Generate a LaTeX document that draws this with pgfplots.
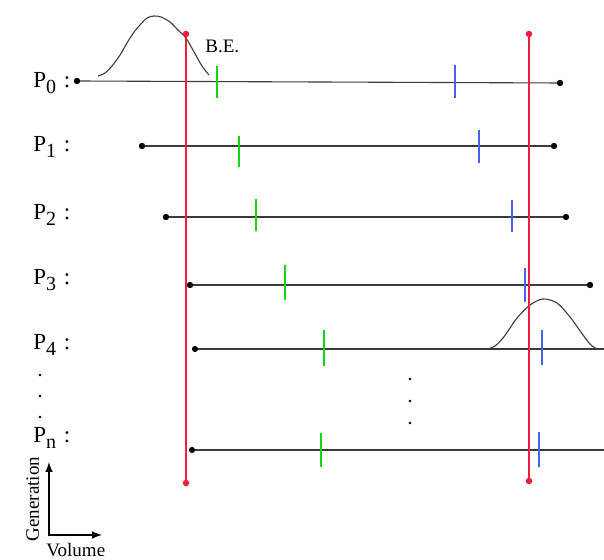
\documentclass[border=0pt]{standalone}
\usepackage{pgfplots}
\pgfplotsset{compat=1.18}
\usepackage{fontspec}
\setmainfont{Liberation Serif}
\definecolor{rl}{RGB}{238,30,60}
\definecolor{gt}{RGB}{20,215,20}
\definecolor{bt}{RGB}{70,100,235}
\definecolor{ln}{RGB}{60,60,60}
\newcommand{\Plab}[1]{P\raisebox{-0.55ex}{\fontsize{10}{11}\selectfont #1}\,\,:}
\begin{document}
\begin{tikzpicture}
\begin{axis}[
  width=302pt, height=280pt, scale only axis,
  xmin=0, xmax=604, ymin=0, ymax=560, y dir=reverse,
  axis lines=none, clip=false,
]
% horizontal lines with end dots
\addplot[ln, line width=0.55pt, mark=*, mark size=1.3pt, mark options={fill=black,draw=black}] coordinates {(77,81) (560,83)};
\addplot[ln, line width=0.55pt, mark=*, mark size=1.3pt, mark options={fill=black,draw=black}] coordinates {(142,146) (554,146)};
\addplot[ln, line width=0.55pt, mark=*, mark size=1.3pt, mark options={fill=black,draw=black}] coordinates {(166,217) (566,217)};
\addplot[ln, line width=0.55pt, mark=*, mark size=1.3pt, mark options={fill=black,draw=black}] coordinates {(190,285) (590,285)};
\addplot[ln, line width=0.55pt, no markers] coordinates {(195,349) (604,349)};
\addplot[only marks, mark=*, mark size=1.3pt, fill=black] coordinates {(195,349)};
\addplot[ln, line width=0.55pt, no markers] coordinates {(192,450) (604,450)};
\addplot[only marks, mark=*, mark size=1.3pt, fill=black] coordinates {(192,450)};
% green ticks
\addplot[gt, line width=0.8pt, no markers] coordinates {(217,66) (217,98)};
\addplot[gt, line width=0.8pt, no markers] coordinates {(239,136) (239,167)};
\addplot[gt, line width=0.8pt, no markers] coordinates {(256,199) (256,231)};
\addplot[gt, line width=0.8pt, no markers] coordinates {(285,265) (285,300)};
\addplot[gt, line width=0.8pt, no markers] coordinates {(324,330) (324,366)};
\addplot[gt, line width=0.8pt, no markers] coordinates {(321,433) (321,467)};
% blue ticks
\addplot[bt, line width=0.8pt, no markers] coordinates {(455,65) (455,98)};
\addplot[bt, line width=0.8pt, no markers] coordinates {(479,130) (479,163)};
\addplot[bt, line width=0.8pt, no markers] coordinates {(512,200) (512,232)};
\addplot[bt, line width=0.8pt, no markers] coordinates {(525,268) (525,302)};
\addplot[bt, line width=0.8pt, no markers] coordinates {(542,330) (542,365)};
\addplot[bt, line width=0.8pt, no markers] coordinates {(539,432) (539,467)};
% bell curves
\addplot[ln, line width=0.55pt, smooth, no markers] coordinates {(98,76) (105,73) (112,66) (120,55) (127,43) (134,32) (140,25) (147,18) (154,16) (161,17) (170,22) (178,30) (186,38) (194,52) (202,66) (209,75)};
\addplot[ln, line width=0.55pt, smooth, no markers] coordinates {(488,349) (495,346) (503,338) (510,328) (517,318) (530,305) (543,299) (557,303) (570,317) (583,335) (590,344) (595,348) (599,349)};
% red lines
\addplot[rl, line width=0.8pt, mark=*, mark size=1.2pt, mark options={fill=rl,draw=rl}] coordinates {(186,34) (186,483)};
\addplot[rl, line width=0.8pt, mark=*, mark size=1.2pt, mark options={fill=rl,draw=rl}] coordinates {(529,34) (529,481)};
% ellipsis dots
\addplot[only marks, mark=*, mark size=0.35pt, black] coordinates {(410,379) (410,401) (410,423)};
\addplot[only marks, mark=*, mark size=0.35pt, black] coordinates {(40,375) (40,396) (40,417)};
% axes arrows
\addplot[black, line width=0.7pt, -latex, no markers] coordinates {(49,536) (49,462)};
\addplot[black, line width=0.7pt, -latex, no markers] coordinates {(48,535) (102,535)};
% labels
\node[anchor=base west, inner sep=0pt, font=\fontsize{11.5}{13}\selectfont] at (axis cs:33,88) {\Plab{0}};
\node[anchor=base west, inner sep=0pt, font=\fontsize{11.5}{13}\selectfont] at (axis cs:33,152) {\Plab{1}};
\node[anchor=base west, inner sep=0pt, font=\fontsize{11.5}{13}\selectfont] at (axis cs:33,220) {\Plab{2}};
\node[anchor=base west, inner sep=0pt, font=\fontsize{11.5}{13}\selectfont] at (axis cs:33,285) {\Plab{3}};
\node[anchor=base west, inner sep=0pt, font=\fontsize{11.5}{13}\selectfont] at (axis cs:33,350) {\Plab{4}};
\node[anchor=base west, inner sep=0pt, font=\fontsize{11.5}{13}\selectfont] at (axis cs:33,443) {\Plab{n}};
\node[anchor=base west, inner sep=0pt, font=\fontsize{9.5}{11}\selectfont] at (axis cs:205,53) {B.E.};
\node[anchor=base west, inner sep=0pt, font=\fontsize{9.5}{11}\selectfont] at (axis cs:46,556) {Volume};
\node[rotate=90, anchor=base, inner sep=0pt, font=\fontsize{9.5}{11}\selectfont] at (axis cs:39,499) {Generation};
\end{axis}
\pgfresetboundingbox
\path[use as bounding box] (current axis.south west) rectangle (current axis.north east);
\end{tikzpicture}
\end{document}
